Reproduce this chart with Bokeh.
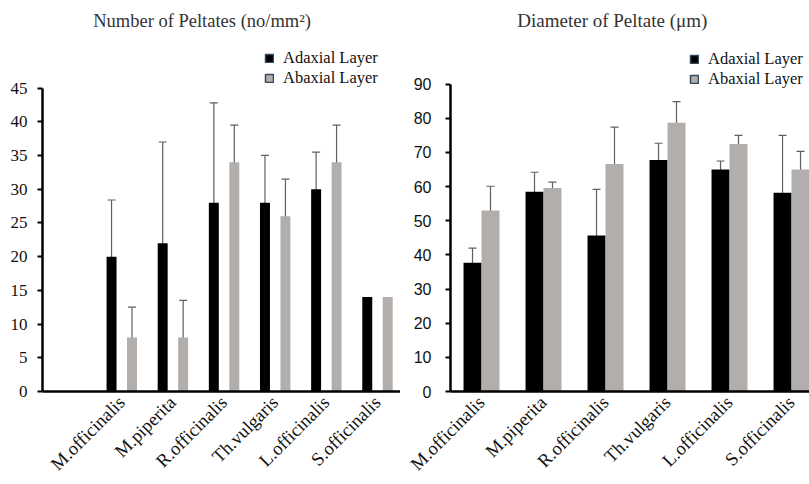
import math
from bokeh.plotting import figure
from bokeh.layouts import row
from bokeh.models import (ColumnDataSource, Range1d, FixedTicker, Whisker, TeeHead,
                          Label, Legend, LegendItem)
from bokeh.embed import file_html
from bokeh.resources import INLINE

# ---- data -------------------------------------------------------------
species = ["M.officinalis", "M.piperita", "R.officinalis",
           "Th.vulgaris", "L.officinalis", "S.officinalis"]

# number of peltates (no/mm2), mean and standard deviation
count_adaxial = [20, 22, 28, 28, 30, 14]
count_adaxial_sd = [8.4, 15.0, 14.8, 7.0, 5.5, 0]
count_abaxial = [8, 8, 34, 26, 34, 14]
count_abaxial_sd = [4.5, 5.5, 5.5, 5.5, 5.5, 0]

# diameter of peltate (um), mean and standard deviation
diam_adaxial = [37.7, 58.5, 45.7, 67.8, 65.0, 58.2]
diam_adaxial_sd = [4.3, 5.7, 13.5, 4.9, 2.5, 16.8]
diam_abaxial = [53.0, 59.6, 66.6, 78.7, 72.5, 65.0]
diam_abaxial_sd = [7.1, 1.7, 10.8, 6.2, 2.5, 5.3]

count_ticks = list(range(0, 50, 5))
diam_ticks = list(range(0, 100, 10))

BLACK = "#000000"
GREY = "#b2aeac"
ERR = "#5f5f5f"
SERIF = "Liberation Serif"
SANS = "Liberation Sans"


def style_axes(p, tick_font, tick_size):
    p.xgrid.grid_line_color = None
    p.ygrid.grid_line_color = None
    p.outline_line_color = None
    p.background_fill_color = "white"
    p.border_fill_color = "white"
    for ax in (p.xaxis[0], p.yaxis[0]):
        ax.axis_line_width = 2.5
        ax.axis_line_color = "black"
        ax.major_tick_line_width = 2
        ax.minor_tick_line_color = None
        ax.major_tick_in = 0
    p.yaxis.major_tick_out = 5
    p.xaxis.major_tick_out = 0
    p.yaxis.major_label_text_font = tick_font
    p.yaxis.major_label_text_font_size = tick_size
    p.yaxis.major_label_text_color = "#111111"
    p.yaxis.major_label_standoff = 10
    p.xaxis.major_label_text_font = SERIF
    p.xaxis.major_label_text_font_size = "18.5px"
    p.xaxis.major_label_text_color = "#111111"
    p.xaxis.major_label_orientation = math.pi / 4
    p.xaxis.major_label_standoff = 8


def bars_with_errors(p, centers, off, width, means, sds, color):
    xs = [c + off for c in centers]
    src = ColumnDataSource(dict(x=xs, top=means))
    p.vbar(x="x", top="top", width=width, bottom=0, source=src,
           fill_color=color, line_color=None)
    keep = [i for i, s in enumerate(sds) if s > 0]
    wsrc = ColumnDataSource(dict(
        x=[xs[i] for i in keep],
        upper=[means[i] + sds[i] for i in keep],
        lower=[means[i] - sds[i] for i in keep]))
    w = Whisker(base="x", upper="upper", lower="lower", source=wsrc,
                dimension="height", line_color=ERR, line_width=1.2,
                upper_head=TeeHead(size=8, line_color=ERR, line_width=1.2),
                lower_head=TeeHead(size=8, line_color=ERR, line_width=1.2))
    p.add_layout(w)


def add_legend(p, loc):
    # swatch renderers sit outside the visible ranges; only their legend glyphs show
    a = p.quad(left=[-101], right=[-100], bottom=[-101], top=[-100],
               fill_color=BLACK, line_color="#34495e", line_width=1.5)
    b = p.quad(left=[-101], right=[-100], bottom=[-101], top=[-100],
               fill_color=GREY, line_color="#34495e", line_width=1.5)
    lg = Legend(items=[LegendItem(label="Adaxial Layer", renderers=[a]),
                       LegendItem(label="Abaxial Layer", renderers=[b])],
                location=loc, orientation="vertical",
                label_text_font=SERIF, label_text_font_size="16.5px",
                label_text_color="#111111",
                glyph_width=10, glyph_height=10, label_height=17,
                label_standoff=9, spacing=0, padding=0, margin=0,
                border_line_color=None, background_fill_alpha=0)
    p.add_layout(lg)


# ---- left panel: number of peltates --------------------------------------
# the frame runs up to the top of the canvas so that the heading and the
# legend sit inside it; the axis itself is bounded to 0..45
left_centers = [i + 1.55 for i in range(len(species))]
p1 = figure(width=400, height=484, x_range=Range1d(0, 7), y_range=Range1d(0, 57.98),
            output_backend="svg", toolbar_location=None,
            min_border_left=42, min_border_right=0,
            min_border_top=0, min_border_bottom=91)
style_axes(p1, SERIF, "17px")
p1.yaxis.bounds = (0, 45)
p1.yaxis.ticker = FixedTicker(ticks=count_ticks)
p1.xaxis.ticker = FixedTicker(ticks=left_centers)
p1.xaxis.major_label_overrides = {c: s for c, s in zip(left_centers, species)}
bars_with_errors(p1, left_centers, -0.2, 0.195, count_adaxial, count_adaxial_sd, BLACK)
bars_with_errors(p1, left_centers, 0.2, 0.195, count_abaxial, count_abaxial_sd, GREY)
p1.add_layout(Label(x=3.12, y=55.0, text="Number of Peltates (no/mm²)",
                    text_font=SERIF, text_font_size="18.5px", text_color="#333333",
                    text_align="center", text_baseline="middle"))
add_legend(p1, (222, 303))

# ---- right panel: diameter of peltate ------------------------------------
right_centers = [i + 0.5 for i in range(len(species))]
p2 = figure(width=409, height=484, x_range=Range1d(0, 5.79), y_range=Range1d(0, 114.5),
            output_backend="svg", toolbar_location=None,
            min_border_left=50, min_border_right=0,
            min_border_top=0, min_border_bottom=91)
style_axes(p2, SANS, "16px")
p2.yaxis.bounds = (0, 90)
p2.yaxis.major_label_standoff = 14
p2.yaxis.ticker = FixedTicker(ticks=diam_ticks)
p2.xaxis.ticker = FixedTicker(ticks=right_centers)
p2.xaxis.major_label_overrides = {c: s for c, s in zip(right_centers, species)}
bars_with_errors(p2, right_centers, -0.145, 0.29, diam_adaxial, diam_adaxial_sd, BLACK)
bars_with_errors(p2, right_centers, 0.145, 0.29, diam_abaxial, diam_abaxial_sd, GREY)
p2.add_layout(Label(x=2.61, y=108.6, text="Diameter of Peltate (μm)",
                    text_font=SERIF, text_font_size="19px", text_color="#333333",
                    text_align="center", text_baseline="middle"))
add_legend(p2, (239, 302))

layout = row(p1, p2, spacing=0)
open("out.html", "w").write(file_html(layout, INLINE))
